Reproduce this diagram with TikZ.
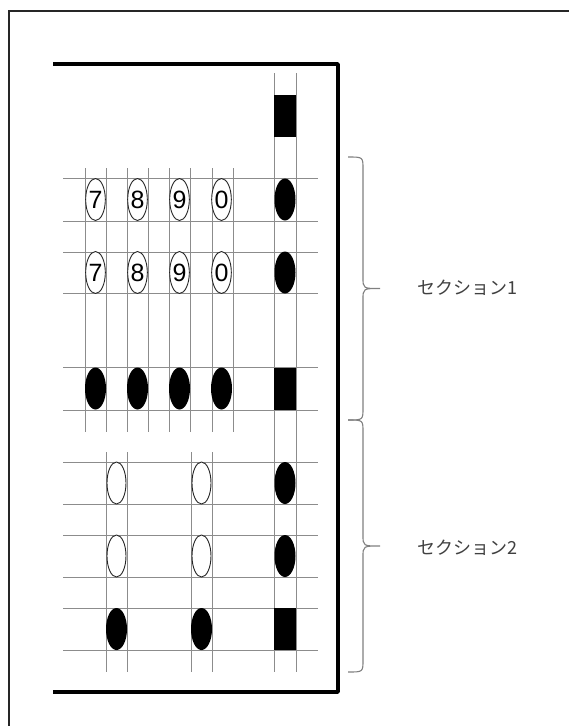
\documentclass[tikz,border=0pt]{standalone}
\usepackage{fontspec}
\setsansfont{Liberation Sans}
\newfontfamily\jpfont{Noto Sans CJK JP}
\usetikzlibrary{shapes.geometric}

\begin{document}
\begin{tikzpicture}[
  x=1pt,y=-1pt,
  frame/.style={draw=black!85,line width=1.3pt},
  card/.style={draw=black,line width=3.4pt,line join=round},
  grid/.style={draw=black!45,line width=.8pt},
  hole/.style={ellipse,draw=black!85,line width=.9pt,fill=white,minimum width=19pt,minimum height=42pt,inner sep=0pt,font=\sffamily\fontsize{25}{25}\selectfont},
  punch/.style={ellipse,fill=black,minimum width=21pt,minimum height=42pt,inner sep=0pt},
  blockmark/.style={rectangle,fill=black,minimum width=22pt,minimum height=42pt,inner sep=0pt},
  curly/.style={draw=black!50,line width=1.1pt},
  sectiontext/.style={anchor=west,text=black!75,font=\jpfont\fontsize{18}{18}\selectfont}
]
  \useasboundingbox (0,0) rectangle (569,726);
  \clip (0,0) rectangle (569,726);
  \draw[frame] (9,11) rectangle (580,740);

  % grid lines
  \foreach \y in {178,221,252,293,367,410,462,504,535,577,608,650}
    \draw[grid] (63,\y) -- (318,\y);
  \foreach \x in {85,106,127,148,169,190,212,233}
    \draw[grid] (\x,168) -- (\x,432);
  \foreach \x in {106,127,191,212}
    \draw[grid] (\x,452) -- (\x,672);
  \foreach \x in {274,296}
    \draw[grid] (\x,73) -- (\x,672);

  \draw[card] (53,64) -- (338,64) -- (338,692) -- (53,692);

  % section 1
  \foreach \d [count=\i] in {7,8,9,0} {
    \node[hole] (a\i) at ({53.5+42*\i},199.5) {\d};
    \node[hole] (b\i) at ({53.5+42*\i},272.5) {\d};
    \node[punch] (c\i) at ({53.5+42*\i},388.5) {};
  }
  \node[blockmark] (top) at (285,116) {};
  \node[punch] (r1) at (285,199.5) {};
  \node[punch] (r2) at (285,272.5) {};
  \node[blockmark] (r3) at (285,388.5) {};

  % section 2
  \foreach \x [count=\i] in {116.5,201.5} {
    \node[hole] (e\i) at (\x,483) {};
    \node[hole] (f\i) at (\x,556) {};
    \node[punch] (g\i) at (\x,629) {};
  }
  \node[punch] (r4) at (285,483) {};
  \node[punch] (r5) at (285,556) {};
  \node[blockmark] (r6) at (285,629) {};

  % braces
  \foreach \a/\b in {157/420,420/672} {
    \pgfmathsetmacro\m{(\a+\b)/2}
    \draw[curly] (348,\a) .. controls (363,\a) .. (363,\a+12) -- (363,\m-11)
      .. controls (363,\m) .. (380,\m) .. controls (363,\m) .. (363,\m+11)
      -- (363,\b-12) .. controls (363,\b) .. (348,\b);
  }
  \node[sectiontext] (s1) at (414,288) {セクション1};
  \node[sectiontext] (s2) at (414,548) {セクション2};
\end{tikzpicture}
\end{document}
